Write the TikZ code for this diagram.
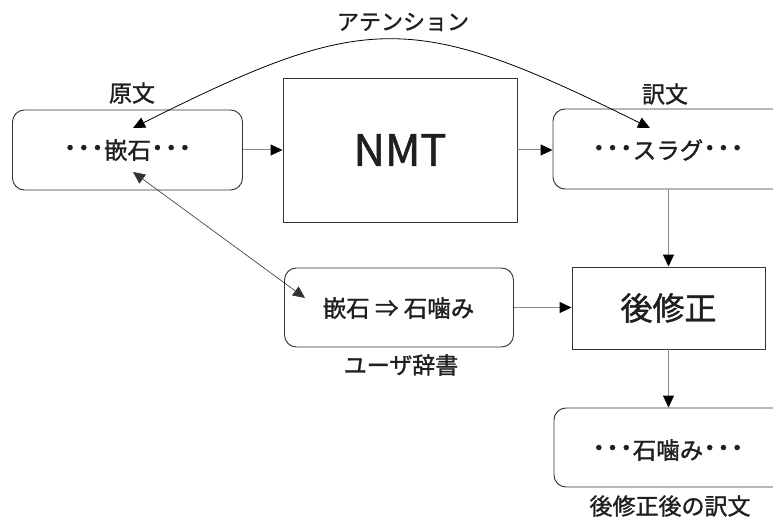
\documentclass[tikz,border=0pt]{standalone}
\usepackage{fontspec}
\setmainfont{Noto Sans CJK JP}[FakeBold=1.3]
\usetikzlibrary{arrows.meta}
\definecolor{boxline}{HTML}{333333}
\definecolor{conn}{HTML}{8A8A8A}
\newcommand{\ddl}{{\fontsize{30}{30}\selectfont ･\kern-1.3pt･\kern-1.3pt･}\kern-1pt}
\newcommand{\ddr}{\kern-1pt{\fontsize{30}{30}\selectfont ･\kern-1.3pt･\kern-1.3pt･}}
\tikzset{
  rbox/.style={draw=boxline, line width=0.95pt, rounded corners=12pt, inner sep=0pt},
  sbox/.style={draw=boxline, line width=0.95pt, inner sep=0pt},
  txt/.style={inner sep=0pt, text=black!88, font=\fontsize{23.5}{26}\selectfont},
  lbl/.style={inner sep=0pt, text=black!88, font=\fontsize{23}{26}\selectfont},
  tip/.style={-{Triangle[length=12pt,width=11pt,color=black]}},
  flow/.style={draw=conn, line width=1pt, tip},
  thin2/.style={draw=black, line width=0.8pt, {Triangle[length=12pt,width=11pt]}-{Triangle[length=12pt,width=11pt]}},
}
\begin{document}
\begin{tikzpicture}[x=1pt,y=-1pt]
\clip (0,0) rectangle (773,518);
\fill[white] (0,0) rectangle (773,518);
% boxes
\node[rbox, minimum width=230pt, minimum height=80pt] (src) at (127.5,150) {};
\node[sbox, minimum width=234pt, minimum height=144pt] (nmt) at (400,150) {};
\node[rbox, minimum width=240pt, minimum height=80pt] (tgt) at (673,149) {};
\node[rbox, minimum width=229pt, minimum height=79pt] (dict) at (399,307.5) {};
\node[sbox, minimum width=193pt, minimum height=82pt] (post) at (668.5,308) {};
\node[rbox, minimum width=240pt, minimum height=79pt] (fin) at (674,447.5) {};
% texts
\node[txt] (srctxt) at (127.5,150) {\ddl 嵌石\ddr};
\node[inner sep=0pt, text=black!88, font=\fontsize{43.5}{48}\selectfont] (nmttxt) at (400,150) {NMT};
\node[txt] (tgttxt) at (668,150) {\ddl スラグ\ddr};
\node[txt] (dicttxt) at (398.5,308) {嵌石 ⇒ 石噛み};
\node[inner sep=0pt, text=black!88, font=\fontsize{32}{38}\selectfont] (posttxt) at (668.5,308) {後修正};
\node[txt] (fintxt) at (668,450) {\ddl 石噛み\ddr};
% labels
\node[lbl] (l1) at (132,93) {原文};
\node[lbl] (l2) at (665,94) {訳文};
\node[lbl] (l3) at (401,365) {ユーザ辞書};
\node[lbl] (l4) at (670,506) {後修正後の訳文};
\node[inner sep=0pt, text=black!88, font=\fontsize{22}{25}\selectfont] (l5) at (403,22) {アテンション};
% flow connectors
\draw[flow] (src.east) -- (nmt.west);
\draw[flow] (nmt.east) -- (nmt.east -| tgt.west);
\draw[flow] (post.north |- tgt.south) -- (post.north);
\draw[flow] (dict.east) -- (dict.east -| post.west);
\draw[flow] (post.south) -- (post.south |- fin.north);
% attention and dictionary links
\coordinate (a1) at (133,128);
\coordinate (a2) at (650,128);
\coordinate (d1) at (133,172);
\coordinate (d2) at (305,298);
\draw[thin2] (a1) .. controls (367,10.7) and (413,10.7) .. (a2);
\draw[thin2, line width=0.6pt, draw=boxline] (d1) -- (d2);
\end{tikzpicture}
\end{document}
